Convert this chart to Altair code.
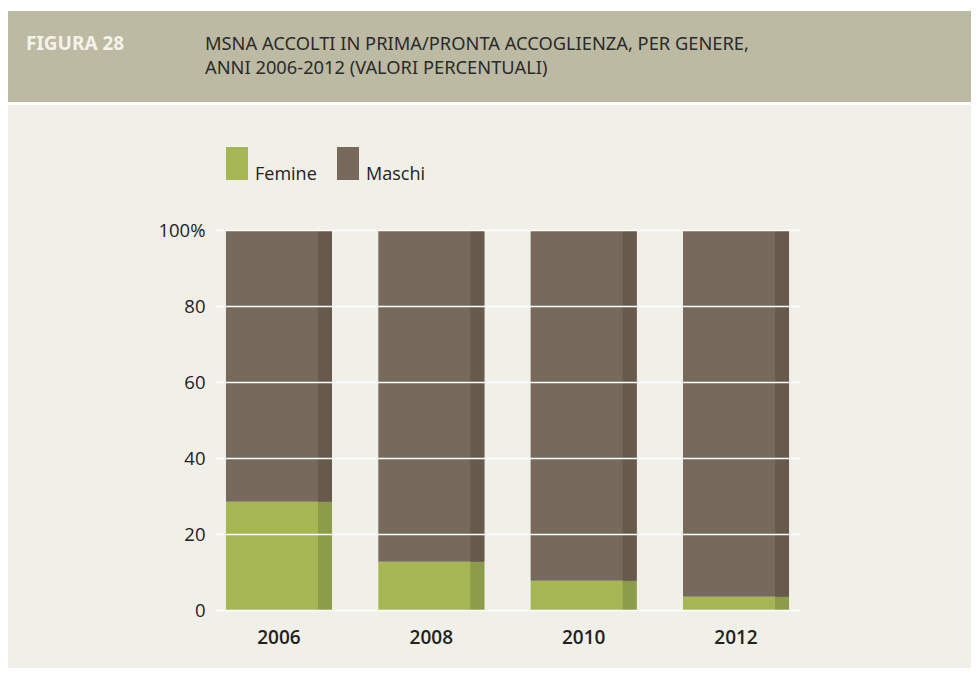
import altair as alt
import pandas as pd

years = ["2006", "2008", "2010", "2012"]
femine = [28.5, 12.7, 7.7, 3.5]
maschi = [71.5, 87.3, 92.3, 96.5]
series = ["Femine", "Maschi"]
main_colors = ["#a6b654", "#77695b"]
strip_colors = ["#8c9c48", "#675a4d"]
y_ticks = [0, 20, 40, 60, 80, 100]
fig_label = "FIGURA 28"
title_lines = ["MSNA ACCOLTI IN PRIMA/PRONTA ACCOGLIENZA, PER GENERE,",
               "ANNI 2006-2012 (VALORI PERCENTUALI)"]

rows = []
for i, yr in enumerate(years):
    rows.append({"anno": yr, "genere": series[0], "val": femine[i], "ord": 0})
    rows.append({"anno": yr, "genere": series[1], "val": maschi[i], "ord": 1})
df = pd.DataFrame(rows)

W, H = 585, 380
PL, PT, PR, PB = 207, 222, 171, 58
FONT = "Open Sans"
TFONT = "Noto Sans"

one = pd.DataFrame({"k": [0]})

panel = alt.Chart(one).mark_rect(color="#f1f0e8").encode(
    x=alt.value(-PL), x2=alt.value(W + PR), y=alt.value(97 - PT), y2=alt.value(H + PB))
header = alt.Chart(one).mark_rect(color="#bcbaa3").encode(
    x=alt.value(-PL), x2=alt.value(W + PR), y=alt.value(3 - PT), y2=alt.value(94 - PT))
fig_text = alt.Chart(one).mark_text(
    text=fig_label, font=TFONT, fontSize=19, fontWeight="bold", color="#f4f3ea",
    align="left", baseline="alphabetic").encode(
    x=alt.value(18 - PL), y=alt.value(42 - PT))
t1 = alt.Chart(one).mark_text(
    text=title_lines[0], font=TFONT, fontSize=18.3, color="#2b2b2b",
    align="left", baseline="alphabetic").encode(
    x=alt.value(197 - PL), y=alt.value(42 - PT))
t2 = alt.Chart(one).mark_text(
    text=title_lines[1], font=TFONT, fontSize=18.3, color="#2b2b2b",
    align="left", baseline="alphabetic").encode(
    x=alt.value(197 - PL), y=alt.value(66 - PT))

xenc = alt.X("anno:N", sort=years,
             scale=alt.Scale(paddingInner=0.304, paddingOuter=0.072),
             axis=alt.Axis(title=None, labelAngle=0, domain=False, ticks=False,
                           labelFont=FONT, labelFontSize=19, labelFontWeight=600,
                           labelColor="#222222", labelPadding=18, grid=False,
                           zindex=1))
yenc = alt.Y("val:Q", stack="zero",
             scale=alt.Scale(domain=[0, 100], nice=False),
             axis=alt.Axis(title=None, values=y_ticks, domain=False, ticks=False,
                           labelFont=FONT, labelFontSize=18.5, labelColor="#222222",
                           labelPadding=10, grid=True, gridColor="#ffffff",
                           gridWidth=1.5, zindex=1,
                           labelExpr="datum.value == 100 ? '100%' : datum.label"))

bars = alt.Chart(df).mark_bar().encode(
    x=xenc, y=yenc,
    color=alt.Color("genere:N", sort=series,
                    scale=alt.Scale(domain=series, range=main_colors),
                    legend=alt.Legend(orient="none", legendX=11, legendY=-61,
                                      direction="horizontal", title=None,
                                      symbolType="M-1,-3H1V0H-1Z", symbolSize=484,
                                      symbolStrokeWidth=0, symbolOpacity=1,
                                      labelFont=FONT, labelFontSize=18,
                                      labelColor="#222222", labelOffset=7,
                                      labelBaseline="alphabetic",
                                      columnPadding=20, padding=0, zindex=1)),
    order=alt.Order("ord:Q"))

strips = alt.Chart(df).mark_bar(width=14, xOffset=46).encode(
    x=alt.X("anno:N", sort=years), y=alt.Y("val:Q", stack="zero"),
    color=alt.Color("genere:N", sort=series,
                    scale=alt.Scale(domain=series, range=strip_colors),
                    legend=None),
    order=alt.Order("ord:Q"))

chart = alt.layer(panel, header, fig_text, t1, t2, bars, strips).resolve_scale(
    color="independent").properties(
    width=W, height=H, background="#ffffff",
    padding={"left": PL, "top": PT, "right": PR, "bottom": PB},
    autosize=alt.AutoSizeParams(type="none")
).configure_view(stroke=None)

chart.save("out.html", embed_options={"renderer": "svg", "actions": False})
